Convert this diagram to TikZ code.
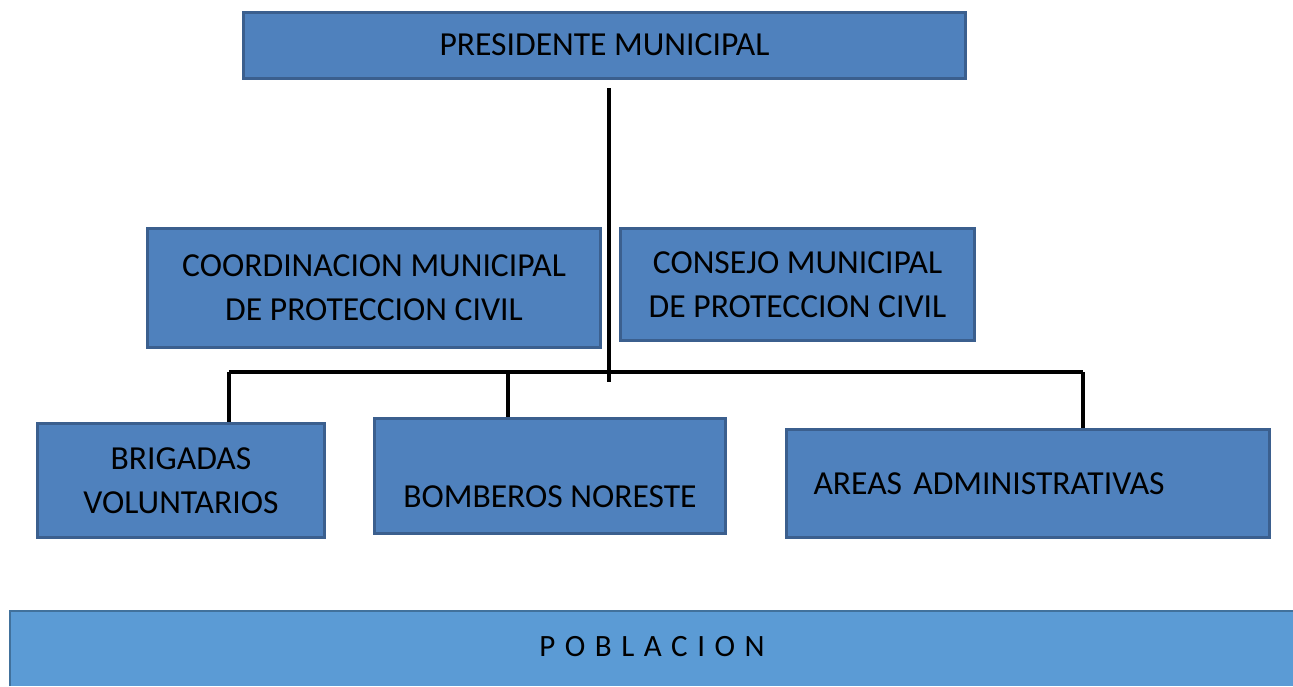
\documentclass[tikz,border=0pt]{standalone}
\usepackage{fontspec}
\setmainfont{Carlito}
\newfontfamily\pobfont[LetterSpace=8]{Carlito}
\begin{document}
\begin{tikzpicture}[x=1pt,y=-1pt,
  box/.style={draw=boxedge,line width=3pt,fill=boxfill,inner sep=0pt,font=\fontsize{33.6}{44}\selectfont,text=black,align=center},
  link/.style={line width=3.5pt,black}]
\definecolor{boxfill}{HTML}{4F81BD}
\definecolor{boxedge}{HTML}{3B5F8E}
\definecolor{pobfill}{HTML}{5B9BD5}
\definecolor{pobedge}{HTML}{41719C}
\useasboundingbox (0,0) rectangle (1293,686);
\node[box,minimum width=722,minimum height=66] (pres) at (604.5,45) {PRESIDENTE MUNICIPAL};
\node[box,minimum width=453,minimum height=119] (coord) at (374,288) {COORDINACION MUNICIPAL\\DE PROTECCION CIVIL};
\node[box,minimum width=354,minimum height=112] (cons) at (797.5,284.5) {CONSEJO MUNICIPAL\\DE PROTECCION CIVIL};
\node[box,minimum width=287,minimum height=114] (brig) at (181,480.5) {BRIGADAS\\VOLUNTARIOS};
\node[box,minimum width=351,minimum height=115,text height=62,text depth=0] (bomb) at (550,476) {BOMBEROS NORESTE};
\node[box,minimum width=483,minimum height=108,align=left,text width=429] (areas) at (1028,483.5) {AREAS ADMINISTRATIVAS};
\fill[pobfill] (10,610) rectangle (1293,686);
\draw[pobedge,line width=2pt] (10,686) -- (10,611) -- (1293,611);
\node[font=\pobfont\fontsize{31}{36}\selectfont] (pob) at (652,647) {P O B L A C I O N};
\coordinate (top) at (609,88);
\coordinate (bot) at (609,382);
\coordinate (jb) at (229,372);
\coordinate (jm) at (508,371);
\coordinate (ja) at (1083,372);
\draw[link] (top) -- (bot);
\draw[link] (jb) -- (ja);
\draw[link] (jb) -- (jb |- brig.north);
\draw[link] (jm) -- (jm |- bomb.north);
\draw[link] (ja) -- (ja |- areas.north);
\end{tikzpicture}
\end{document}
